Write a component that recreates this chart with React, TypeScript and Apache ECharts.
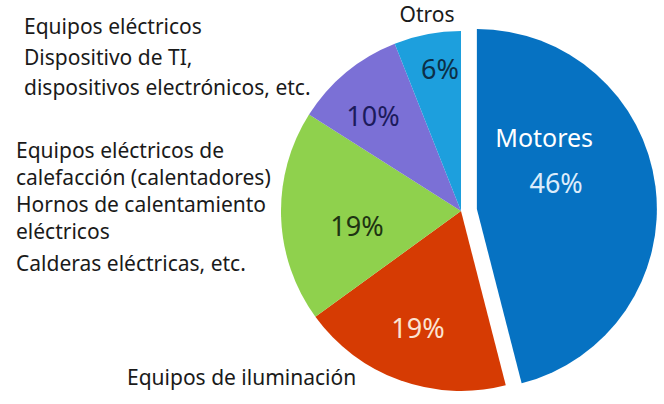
import React, { useEffect, useRef } from "react";
import * as echarts from "echarts";

const categories = [
  "Motores",
  "Equipos de iluminación",
  "Equipos eléctricos de calefacción",
  "Equipos eléctricos",
  "Otros",
];
const shares = [46, 19, 19, 10, 6];
const sliceColors = ["#0672c2", "#d63b03", "#8fd14d", "#7b70d6", "#1d9fdd"];
const pctColors = ["#dcecfb", "#fbe3d2", "#1e3412", "#1c1b5c", "#0c2f48"];
// label anchors for the non-exploded slices (index 0 uses the default inside position)
const labelAnchors = [
  null,
  [418, 327],
  [357, 225],
  [373, 115],
  [440, 68],
];

const textA = ["Equipos eléctricos", "Dispositivo de TI,", "dispositivos electrónicos, etc."];
const textB = [
  "Equipos eléctricos de",
  "calefacción (calentadores)",
  "Hornos de calentamiento",
  "eléctricos",
];
const textB2 = "Calderas eléctricas, etc.";
const textLighting = "Equipos de iluminación";
const textOtros = "Otros";

const FONT = "'Noto Sans', 'Open Sans', sans-serif";

export default function App() {
  const ref = useRef<HTMLDivElement>(null);
  useEffect(() => {
    if (!ref.current) return;
    const chart = echarts.init(ref.current, undefined, { renderer: "svg" });
    const data = shares.map((v, i) => ({
      name: categories[i],
      value: v,
      selected: i === 0,
      itemStyle: { color: sliceColors[i] },
      label: {
        color: pctColors[i],
        padding: i === 0 ? [0, 26, 80, 0] : 0,
        formatter:
          i === 0
            ? "{n|" + categories[0] + "}\n{p|" + v + "%}"
            : "{p|" + v + "%}",
        rich: {
          n: {
            fontSize: 25,
            lineHeight: 50,
            color: "#ffffff",
            fontFamily: FONT,
            padding: [0, 24, 0, 0],
          },
          p: { fontSize: 27, lineHeight: i === 0 ? 40 : 32, color: pctColors[i], fontFamily: FONT },
        },
      },
    }));
    const txt = (text: string, x: number, y: number, lh: number, align = "left") => ({
      type: "text",
      x,
      y,
      style: {
        text,
        fill: "#1a1a1a",
        font: `21px ${FONT}`,
        lineHeight: lh,
        textVerticalAlign: "top",
        textAlign: align,
      },
    });
    chart.setOption({
      animation: false,
      backgroundColor: "#ffffff",
      series: [
        {
          type: "pie",
          center: [461, 211],
          radius: [0, 180],
          startAngle: 90,
          clockwise: true,
          selectedMode: "single",
          selectedOffset: 16,
          avoidLabelOverlap: false,
          label: { show: true, position: "inside", fontFamily: FONT },
          labelLine: { show: false },
          itemStyle: { borderWidth: 0 },
          emphasis: { disabled: true },
          labelLayout: (p: any) => {
            const a = labelAnchors[p.dataIndex];
            return a ? { x: a[0], y: a[1] } : {};
          },
          data,
        },
      ],
      graphic: [
        txt(textA.join("\n"), 24, 11, 30.5),
        txt(textB.join("\n"), 16, 136, 27),
        txt(textB2, 16, 249, 27),
        txt(textLighting, 127, 363, 27),
        txt(textOtros, 427, 0, 27, "center"),
      ],
    });
    return () => chart.dispose();
  }, []);
  return (
    <div
      ref={ref}
      style={{ position: "absolute", left: 0, top: 0, width: 664, height: 404 }}
    />
  );
}
